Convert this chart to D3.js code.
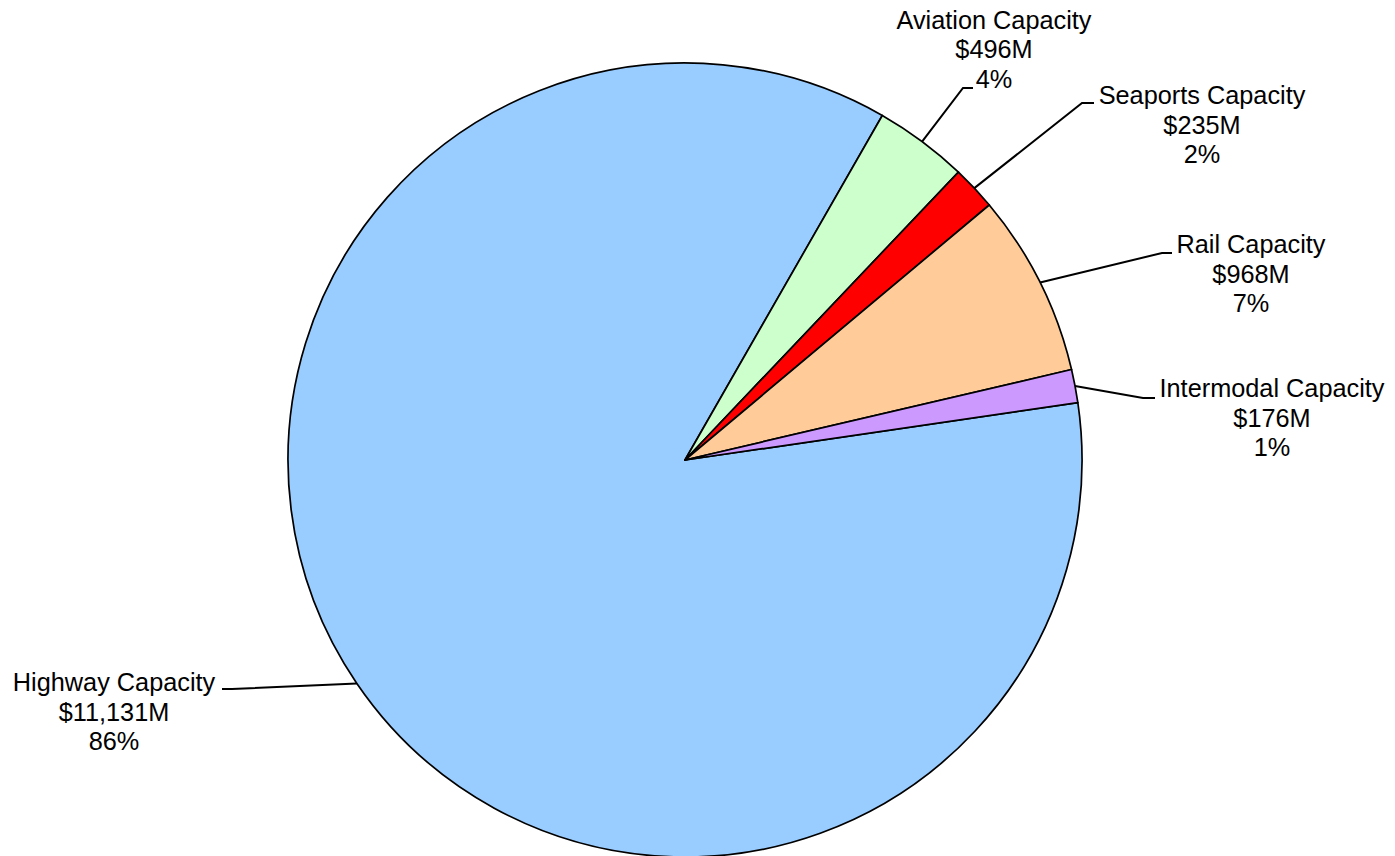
<!DOCTYPE html>
<html>
<head>
<meta charset="utf-8">
<script src="https://cdn.jsdelivr.net/npm/d3@7"></script>
<style>
  html, body { margin: 0; padding: 0; background: #fff; }
  svg { display: block; }
  text { font-family: "Liberation Sans", Arial, sans-serif; fill: #000; }
</style>
</head>
<body>
<svg id="chart" width="1395" height="856"></svg>
<script>
// ---- data ----
const categories = ["Highway Capacity", "Aviation Capacity", "Seaports Capacity", "Rail Capacity", "Intermodal Capacity"];
const values = [11131, 496, 235, 968, 176];
const colors = ["#99CCFF", "#CCFFCC", "#FF0000", "#FFCC99", "#CC99FF"];

// ---- label layout (positions, not data) ----
// ex,ey: end of leader line near text; dx: length/direction of horizontal segment;
// tx: text centre x; ty: first-line baseline
const labelLayout = [
  { ex: 222,  ey: 689, dx: 10,  tx: 114,  ty: 691 },
  { ex: 973,  ey: 88,  dx: -10, tx: 994,  ty: 28.5 },
  { ex: 1094, ey: 103, dx: -12, tx: 1202, ty: 104 },
  { ex: 1172, ey: 253, dx: -10, tx: 1251, ty: 253 },
  { ex: 1155, ey: 398, dx: -12, tx: 1272, ty: 397 }
];

const cx = 685, cy = 460, R = 397;
const lineH = 29.5;
const svg = d3.select("#chart");
const total = d3.sum(values);
const start = 81.7 * Math.PI / 180;

const pie = d3.pie().sort(null).value(d => d.v).startAngle(start).endAngle(start + 2 * Math.PI);
const arcs = pie(categories.map((c, i) => ({ c, v: values[i], i })));
const arc = d3.arc().innerRadius(0).outerRadius(R);

const g = svg.append("g").attr("transform", `translate(${cx},${cy})`);
g.selectAll("path.slice").data(arcs).join("path")
  .attr("class", "slice")
  .attr("d", arc)
  .attr("fill", d => colors[d.data.i])
  .attr("stroke", "#000")
  .attr("stroke-width", 1.7)
  .attr("stroke-linejoin", "round");

const fmtPct = d3.format(".0%");
const fmtVal = v => "$" + d3.format(",")(v) + "M";

arcs.forEach(d => {
  const L = labelLayout[d.data.i];
  const mid = (d.startAngle + d.endAngle) / 2;
  const sx = cx + R * Math.sin(mid), sy = cy - R * Math.cos(mid);
  svg.append("polyline")
    .attr("points", `${sx},${sy} ${L.ex + L.dx},${L.ey} ${L.ex},${L.ey}`)
    .attr("fill", "none").attr("stroke", "#000").attr("stroke-width", 2);
  const lines = [d.data.c, fmtVal(d.data.v), fmtPct(d.data.v / total)];
  const t = svg.append("text").attr("text-anchor", "middle").attr("font-size", 25.3);
  lines.forEach((s, k) => t.append("tspan").attr("x", L.tx).attr("y", L.ty + k * lineH).text(s));
});
</script>
</body>
</html>
